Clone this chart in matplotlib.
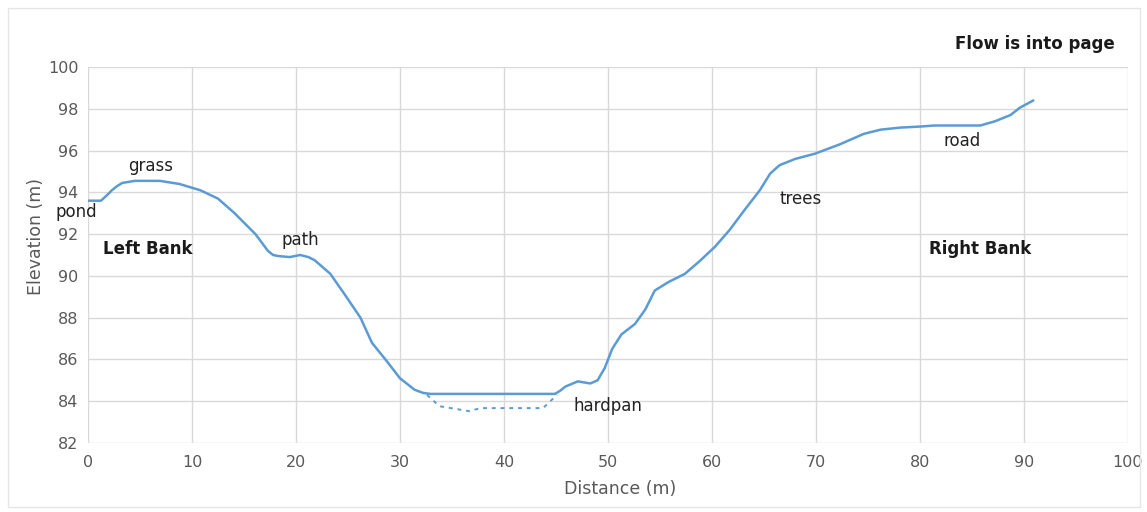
import numpy as np
import matplotlib
matplotlib.use("Agg")
import matplotlib.pyplot as plt
from matplotlib.patches import Rectangle

# channel cross-section
distance = [0, 1.25, 1.8, 2.3, 2.8, 3.3, 4.5, 6.9, 8.8, 10.8, 12.5, 14.1, 16.1,
            17.3, 17.8, 18.3, 19.4, 20.4, 21.2, 21.8, 23.3, 24.7, 26.2, 27.3,
            28.6, 30.0, 31.4, 32.2, 32.9, 44.9, 45.4, 45.9, 47.1, 48.3, 49.0,
            49.7, 50.4, 51.3, 52.6, 53.6, 54.5, 55.8, 57.4, 58.8, 60.3, 61.7,
            63.2, 64.6, 65.6, 66.5, 68.0, 69.9, 72.3, 74.6, 76.2, 78.1, 80.0,
            81.4, 85.8, 87.2, 88.7, 89.6, 90.9]
elevation = [93.6, 93.6, 93.85, 94.1, 94.3, 94.45, 94.55, 94.55, 94.4, 94.1,
             93.7, 93.0, 92.0, 91.2, 91.0, 90.95, 90.9, 91.0, 90.9, 90.75, 90.1,
             89.1, 88.0, 86.8, 86.0, 85.1, 84.55, 84.4, 84.35, 84.35, 84.5, 84.7,
             84.95, 84.85, 85.0, 85.6, 86.5, 87.2, 87.7, 88.4, 89.3, 89.7, 90.1,
             90.7, 91.4, 92.2, 93.2, 94.1, 94.9, 95.3, 95.6, 95.85, 96.3, 96.8,
             97.0, 97.1, 97.15, 97.2, 97.2, 97.4, 97.7, 98.05, 98.4]

hardpan_x = [32.6, 33.8, 36.7, 37.7, 43.75, 45.1]
hardpan_y = [84.3, 83.76, 83.52, 83.67, 83.67, 84.3]

labels = [("grass", 6.0, 95.25), ("pond", -1.1, 93.05), ("path", 20.4, 91.7),
          ("hardpan", 50.0, 83.76), ("trees", 68.5, 93.7), ("road", 84.1, 96.45)]
bold_labels = [("Left Bank", 5.7, 91.3), ("Right Bank", 85.8, 91.3)]

blue = "#5b9bd5"
grey = "#d9d9d9"
tick_col = "#595959"

fig = plt.figure(figsize=(11.47, 5.12), dpi=100)
fig.patches.append(Rectangle((0.007, 0.01), 0.987, 0.975, transform=fig.transFigure,
                             fill=False, edgecolor="#e6e6e6", lw=1))
ax = fig.add_axes([0.0767, 0.1348, 0.9067, 0.7343])

ax.plot(distance, elevation, color=blue, lw=1.8, solid_capstyle="round",
        solid_joinstyle="round")
ax.plot(hardpan_x, hardpan_y, color=blue, lw=1.4, ls=(0, (2, 2.5)))

ax.set_xlim(0, 100)
ax.set_ylim(82, 100)
ax.set_xticks(np.arange(0, 101, 10))
ax.set_yticks(np.arange(82, 101, 2))
ax.grid(True, color=grey, lw=1)
ax.set_axisbelow(True)
for s in ax.spines.values():
    s.set_visible(False)
ax.tick_params(length=0, labelsize=11.5, colors=tick_col)
ax.tick_params(axis="x", pad=9)
ax.tick_params(axis="y", pad=7)
ax.set_xlabel("Distance (m)", fontsize=12.5, color=tick_col)
ax.set_ylabel("Elevation (m)", fontsize=12.5, color=tick_col)
ax.xaxis.set_label_coords(0.5115, -0.098)
ax.yaxis.set_label_coords(-0.0414, 0.548)

for txt, x, y in labels:
    ax.text(x, y, txt, fontsize=12, ha="center", va="center", color="#222222",
            clip_on=False, zorder=5)
for txt, x, y in bold_labels:
    ax.text(x, y, txt, fontsize=12, ha="center", va="center", color="#1a1a1a",
            fontweight="bold")
fig.text(0.902, 0.915, "Flow is into page", fontsize=12, fontweight="bold",
         ha="center", va="center", color="#1a1a1a")

fig.savefig("out.png", dpi=100)
